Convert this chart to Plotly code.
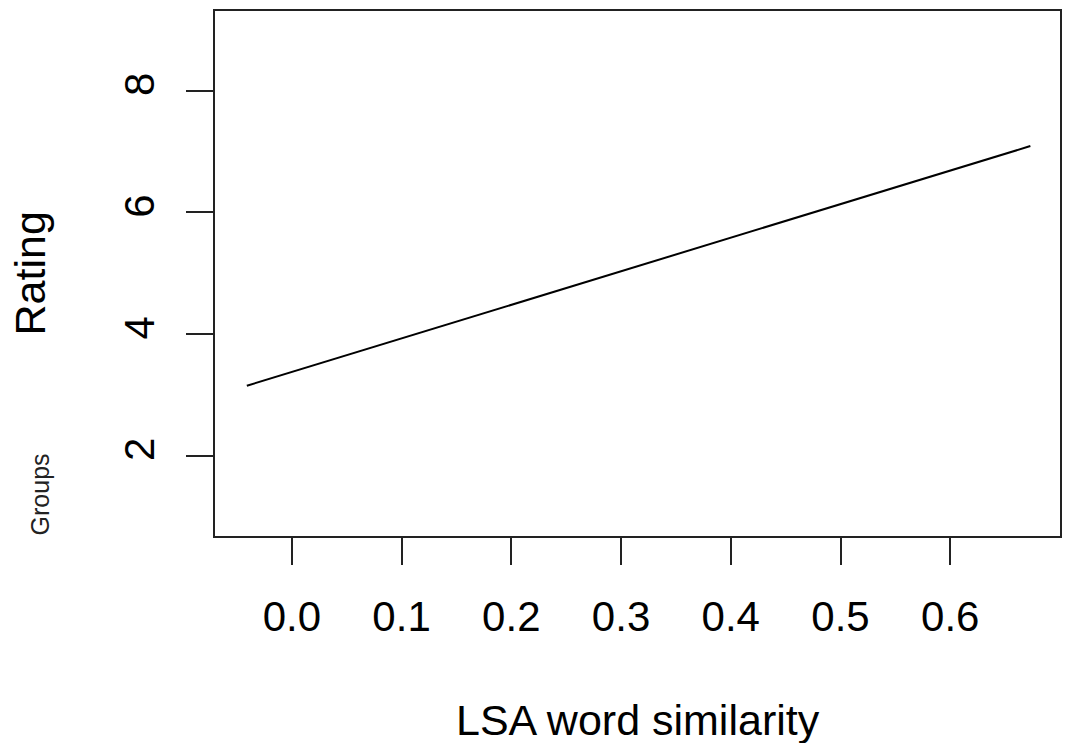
import plotly.graph_objects as go

# Data
fit_x = [-0.041, 0.673]
fit_y = [3.15, 7.09]
x_ticks = [0.0, 0.1, 0.2, 0.3, 0.4, 0.5, 0.6]
x_tick_labels = ["0.0", "0.1", "0.2", "0.3", "0.4", "0.5", "0.6"]
y_ticks = [2, 4, 6, 8]
y_tick_labels = ["2", "4", "6", "8"]

FONT = "Liberation Sans, Arial, sans-serif"

fig = go.Figure()
fig.add_trace(go.Scatter(x=fit_x, y=fit_y, mode="lines",
                         line=dict(color="black", width=2),
                         showlegend=False, hoverinfo="skip"))

fig.update_layout(
    width=1066, height=743,
    margin=dict(l=215, r=4, t=11, b=207),
    paper_bgcolor="white", plot_bgcolor="white",
    font=dict(family=FONT, color="black", size=42),
    showlegend=False,
)
fig.update_xaxes(
    range=[-0.07, 0.70], tickvals=x_ticks, ticktext=x_tick_labels,
    ticks="outside", ticklen=27, tickwidth=2, tickcolor="#222",
    showline=True, linecolor="#222", linewidth=2, mirror=True,
    showgrid=False, zeroline=False,
    tickfont=dict(size=42, family=FONT, color="black"),
    ticklabelstandoff=16,
)
fig.update_yaxes(
    range=[0.68, 9.31], tickvals=y_ticks, ticktext=y_tick_labels,
    ticks="outside", ticklen=27, tickwidth=2, tickcolor="#222",
    showline=True, linecolor="#222", linewidth=2, mirror=True,
    showgrid=False, zeroline=False, tickangle=-90,
    tickfont=dict(size=42, family=FONT, color="black"),
    ticklabelstandoff=15,
)

fig.add_annotation(text="LSA word similarity", xref="paper", yref="paper",
                   x=0.5, y=-0.350, xanchor="center", yanchor="middle",
                   showarrow=False, font=dict(size=43, family=FONT, color="black"))
fig.add_annotation(text="Rating", xref="paper", yref="paper",
                   x=-0.219, y=0.5, xanchor="center", yanchor="middle", textangle=-90,
                   showarrow=False, font=dict(size=43, family=FONT, color="black"))
fig.add_annotation(text="Groups", xref="paper", yref="paper",
                   x=-0.2066, y=0.08, xanchor="center", yanchor="middle", textangle=-90,
                   showarrow=False, font=dict(size=25, family=FONT, color="#222"))

fig.write_html("out.html",
               config={"displayModeBar": False},
               post_script="document.body.style.margin='0';document.body.style.overflow='hidden';")
